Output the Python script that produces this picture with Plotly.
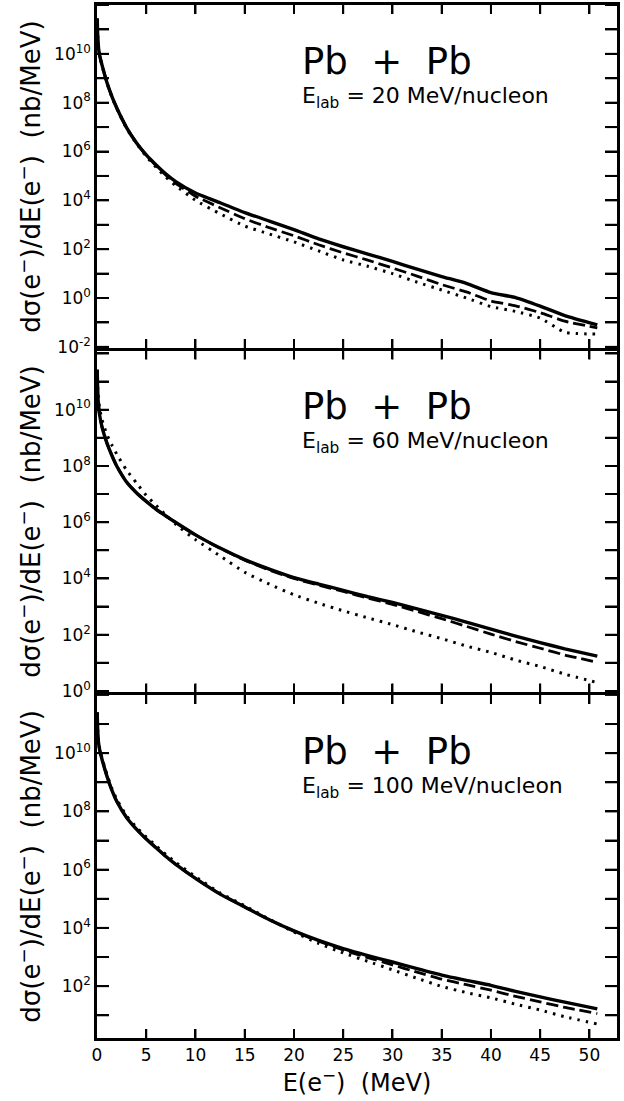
import plotly.graph_objects as go

# Electron energy (MeV)
E = [0.02, 0.1, 0.25, 0.5, 1, 1.5, 2, 3, 4, 5, 6, 7, 8, 10, 12.5, 15, 17.5, 20,
     22.5, 25, 27.5, 30, 32.5, 35, 37.5, 40, 42.5, 45, 47.5, 50.8]

# log10 of dsigma/dE (nb/MeV)
# Panel 1: E_lab = 20 MeV/nucleon
p20_solid = [11.45, 10.5, 9.97, 9.56, 8.84, 8.27, 7.79, 6.98, 6.36, 5.86, 5.45, 5.08, 4.77, 4.3, 3.9, 3.5, 3.15, 2.8,
             2.42, 2.1, 1.8, 1.5, 1.18, 0.88, 0.6, 0.22, 0.02, -0.33, -0.72, -1.1]
p20_dashed = [11.45, 10.5, 9.97, 9.56, 8.84, 8.27, 7.79, 6.98, 6.36, 5.85, 5.42, 5.03, 4.7, 4.17, 3.7, 3.25, 2.88, 2.55,
              2.18, 1.85, 1.55, 1.23, 0.9, 0.55, 0.25, -0.12, -0.32, -0.6, -0.95, -1.22]
p20_dotted = [11.45, 10.48, 9.95, 9.53, 8.82, 8.24, 7.76, 6.95, 6.33, 5.8, 5.35, 4.95, 4.6, 4.0, 3.45, 2.95, 2.62, 2.3,
              1.93, 1.56, 1.3, 1.0, 0.65, 0.33, 0.0, -0.35, -0.55, -0.82, -1.4, -1.48]

# Panel 2: E_lab = 60 MeV/nucleon
p60_solid = [11.42, 10.4, 9.85, 9.4, 8.82, 8.38, 8.0, 7.43, 7.05, 6.74, 6.46, 6.22, 5.99, 5.55, 5.08, 4.67, 4.33, 4.03,
             3.8, 3.58, 3.35, 3.15, 2.92, 2.69, 2.45, 2.2, 1.95, 1.72, 1.5, 1.24]
p60_dashed = [11.42, 10.4, 9.85, 9.4, 8.82, 8.38, 8.0, 7.43, 7.05, 6.74, 6.46, 6.22, 5.99, 5.55, 5.07, 4.65, 4.3, 4.0,
              3.76, 3.54, 3.3, 3.08, 2.83, 2.57, 2.3, 2.02, 1.76, 1.52, 1.28, 1.02]
p60_dotted = [11.42, 10.6, 10.1, 9.65, 9.12, 8.75, 8.42, 7.85, 7.4, 6.95, 6.6, 6.25, 5.92, 5.38, 4.8, 4.22, 3.8, 3.42,
              3.12, 2.85, 2.6, 2.36, 2.1, 1.86, 1.6, 1.37, 1.1, 0.87, 0.6, 0.3]

# Panel 3: E_lab = 100 MeV/nucleon
p100_solid = [11.4, 10.55, 10.15, 9.8, 9.22, 8.74, 8.35, 7.79, 7.39, 7.05, 6.75, 6.45, 6.18, 5.7, 5.16, 4.72, 4.28, 3.9,
              3.57, 3.29, 3.05, 2.83, 2.6, 2.38, 2.2, 2.03, 1.82, 1.63, 1.45, 1.22]
p100_dashed = [11.4, 10.55, 10.15, 9.8, 9.22, 8.74, 8.35, 7.79, 7.39, 7.05, 6.75, 6.45, 6.18, 5.7, 5.16, 4.72, 4.28, 3.89,
               3.54, 3.24, 2.98, 2.73, 2.48, 2.24, 2.05, 1.86, 1.65, 1.46, 1.27, 1.06]
p100_dotted = [11.4, 10.55, 10.2, 9.85, 9.28, 8.8, 8.42, 7.85, 7.46, 7.12, 6.82, 6.52, 6.25, 5.76, 5.2, 4.76, 4.3, 3.86,
               3.47, 3.14, 2.85, 2.56, 2.27, 1.99, 1.78, 1.6, 1.38, 1.18, 0.95, 0.7]

panel_energies = ["20", "60", "100"]
x_ticks = [0, 5, 10, 15, 20, 25, 30, 35, 40, 45, 50]
y_ranges = [(-2.05, 12.0), (-0.05, 12.1), (0.22, 12.0)]
y_label_decades = [[-2, 0, 2, 4, 6, 8, 10], [0, 2, 4, 6, 8, 10], [2, 4, 6, 8, 10]]

series = [
    (p20_solid, p20_dashed, p20_dotted),
    (p60_solid, p60_dashed, p60_dotted),
    (p100_solid, p100_dashed, p100_dotted),
]

FONT = "DejaVu Sans"
LW = 2.5
XTL, YTL = 9, 12  # tick lengths (px)
g = LW / 1033  # small gap so the shared frame lines of adjacent panels coincide
domains = [(2 / 3 + g / 2, 1.0), (1 / 3 + g / 2, 2 / 3 - g / 2), (0.0, 1 / 3 - g / 2)]
styles = [
    dict(width=3.4, dash="solid"),
    dict(width=2.8, dash="12px,5px"),
    dict(width=3, dash="2.5px,6px"),
]
YTITLE = "dσ(e<sup>−</sup>)/dE(e<sup>−</sup>)  (nb/MeV)"

fig = go.Figure()
shapes = []
for i, (trip, dom) in enumerate(zip(series, domains)):
    xa = "x" if i == 0 else f"x{i+1}"
    ya = "y" if i == 0 else f"y{i+1}"
    for vals, st in zip(trip, styles):
        fig.add_trace(go.Scatter(
            x=E, y=[10 ** v for v in vals], mode="lines",
            line=dict(color="black", width=st["width"], dash=st["dash"],
                      shape="spline", smoothing=0.5),
            xaxis=xa, yaxis=ya))

    lo, hi = y_ranges[i]
    decades = list(range(int(-(-lo // 1)), int(hi // 1) + 1))
    xd = dict(domain=[0, 1], range=[0, 52.8], anchor=ya, tickmode="array", tickvals=x_ticks,
              ticks="inside", ticklen=XTL, tickwidth=2, tickcolor="black",
              showline=True, linewidth=LW, linecolor="black", mirror="ticks",
              showgrid=False, zeroline=False,
              tickfont=dict(family=FONT, size=17, color="black"))
    if i == 2:
        xd.update(title=dict(text="E(e<sup>−</sup>)  (MeV)",
                             font=dict(family=FONT, size=24, color="black"), standoff=8))
    else:
        xd.update(showticklabels=False)
    yd = dict(domain=list(dom), type="log", range=[lo, hi], anchor=xa, tickmode="array",
              tickvals=[10 ** d for d in decades],
              ticktext=[f"10<sup>{d}</sup>" if d in y_label_decades[i] else " " for d in decades],
              ticks="inside", ticklen=YTL, tickwidth=2, tickcolor="black",
              showline=True, linewidth=LW, linecolor="black", mirror="ticks",
              showgrid=False, zeroline=False,
              tickfont=dict(family=FONT, size=17, color="black"),
              title=dict(text=YTITLE, font=dict(family=FONT, size=26, color="black"), standoff=6))
    xk = "xaxis" if i == 0 else f"xaxis{i+1}"
    yk = "yaxis" if i == 0 else f"yaxis{i+1}"
    fig.update_layout(**{xk: xd, yk: yd})

    # inward tick marks on all four sides, placed through the axes' own scales
    for xv in x_ticks[1:]:
        for anchor, length in ((0, XTL), (1, -XTL)):
            shapes.append(dict(type="line", xref=xa, yref=f"{ya} domain",
                               ysizemode="pixel", yanchor=anchor,
                               x0=xv, x1=xv, y0=0, y1=length,
                               line=dict(color="black", width=2)))
    for d in decades:
        for anchor, length in ((0, YTL), (1, -YTL)):
            shapes.append(dict(type="line", xref=f"{xa} domain", yref=ya,
                               xsizemode="pixel", xanchor=anchor,
                               x0=0, x1=length, y0=10 ** d, y1=10 ** d,
                               line=dict(color="black", width=2)))

    h = dom[1] - dom[0]
    fig.add_annotation(
        text="Pb  +  Pb", xref="paper", yref="paper",
        x=0.39, y=dom[0] + 0.835 * h, xanchor="left", yanchor="middle", showarrow=False,
        font=dict(family=FONT, size=37, color="black"))
    fig.add_annotation(
        text=f"E<sub>lab</sub> = {panel_energies[i]} MeV/nucleon",
        xref="paper", yref="paper",
        x=0.39, y=dom[0] + 0.73 * h, xanchor="left", yanchor="middle", showarrow=False,
        font=dict(family=FONT, size=22, color="black"))

fig.update_layout(template="none", width=624, height=1101,
                  margin=dict(l=97, r=7, t=5, b=63, autoexpand=False),
                  showlegend=False, shapes=shapes)
fig.write_html("out.html")
